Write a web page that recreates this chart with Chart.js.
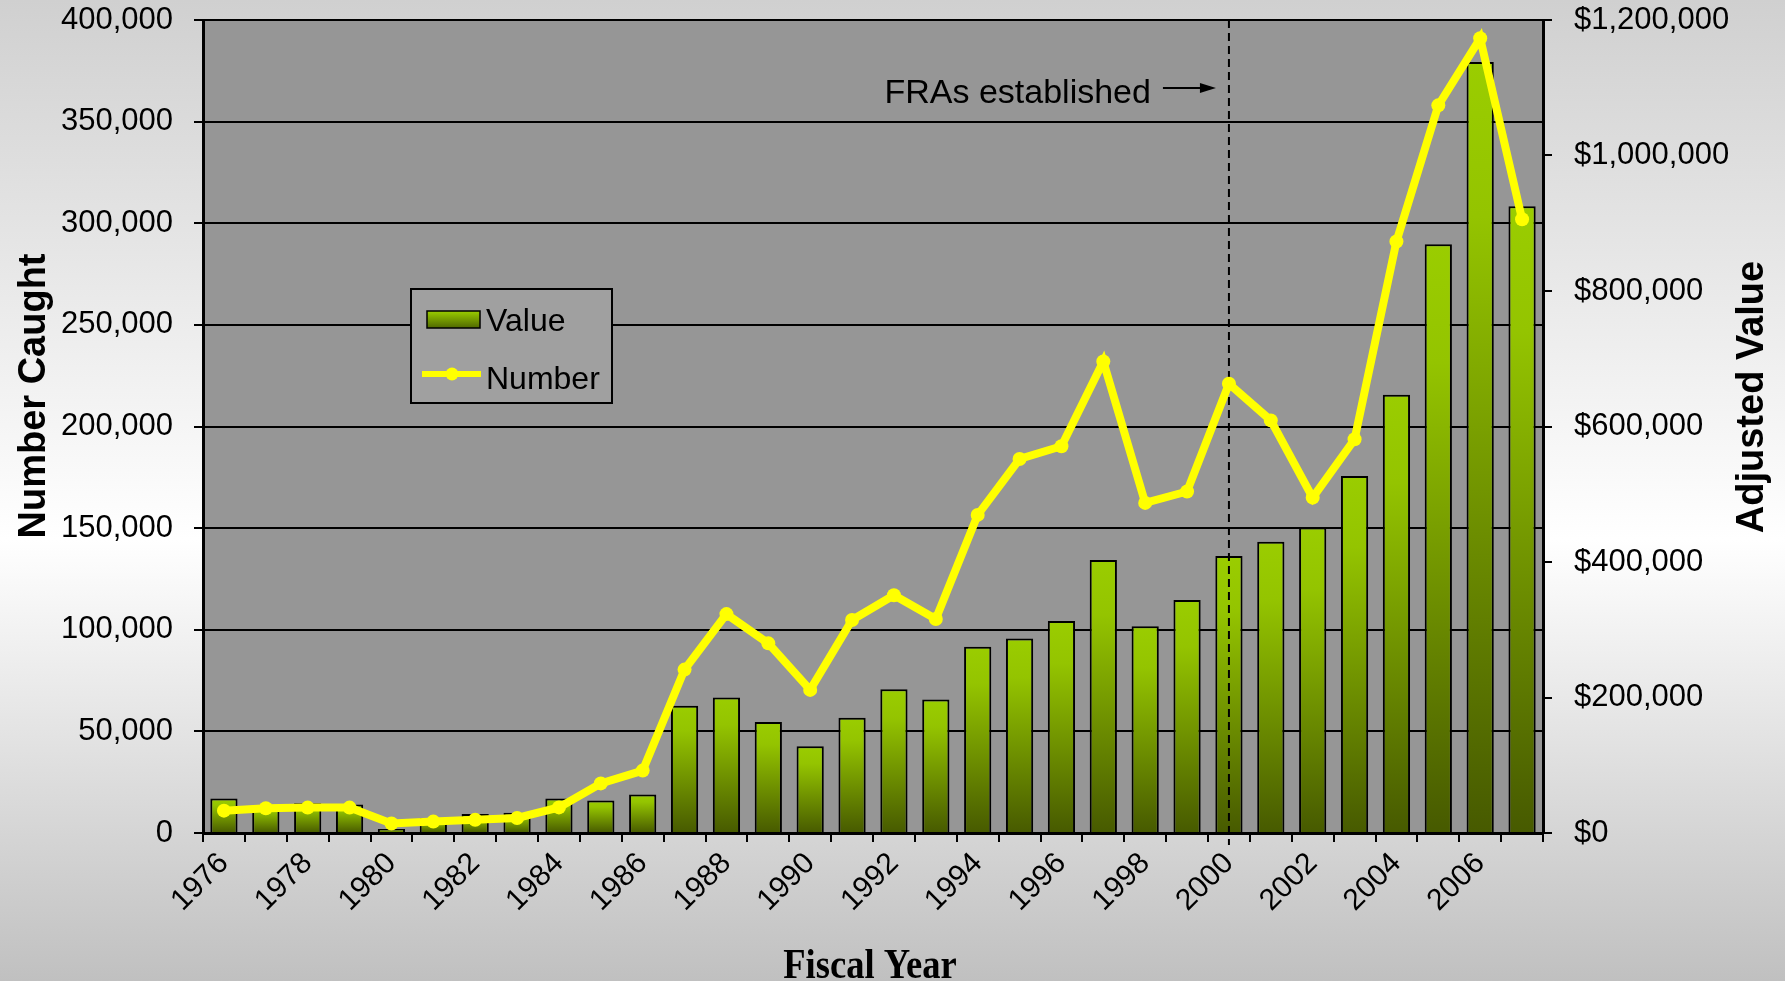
<!DOCTYPE html>
<html>
<head>
<meta charset="utf-8">
<script src="https://cdn.jsdelivr.net/npm/chart.js@4.4.1/dist/chart.umd.min.js"></script>
<style>
  html, body { margin: 0; padding: 0; overflow: hidden; }
  body {
    width: 1785px; height: 981px;
    background: linear-gradient(to bottom, #d0d0d0 0%, #ffffff 55%, #c0c0c0 100%);
  }
  #wrap { position: relative; width: 1785px; height: 981px; }
</style>
</head>
<body>
<div id="wrap"><canvas id="chart"></canvas></div>
<script>
// fiscal years on the x axis
const years = ['1976', '1977', '1978', '1979', '1980', '1981', '1982', '1983',
  '1984', '1985', '1986', '1987', '1988', '1989', '1990', '1991',
  '1992', '1993', '1994', '1995', '1996', '1997', '1998', '1999',
  '2000', '2001', '2002', '2003', '2004', '2005', '2006', '2007'];

// number caught (line, left axis)
const numberCaught = [11000, 12200, 12500, 12500, 4700, 5600, 6500, 7400,
  12600, 24400, 30700, 80400, 107700, 93300, 70400, 104800,
  117000, 105300, 156500, 184000, 190300, 232000, 162400, 168000,
  221000, 203000, 165000, 193700, 291000, 358000, 391000, 302000];

// adjusted value in dollars (bars, right axis)
const adjustedValue = [51000, 40000, 44000, 42000, 6000, 22000, 28000, 30000,
  51000, 48000, 57000, 188000, 200000, 164000, 128000, 170000,
  212000, 197000, 275000, 287000, 313000, 403000, 305000, 344000,
  409000, 430000, 451000, 527000, 647000, 869000, 1138000, 925000];

const eventYear = '2000';
const eventLabel = 'FRAs established';

const sans = "'Liberation Sans', Arial, sans-serif";
const serif = "'Liberation Serif', 'Times New Roman', serif";
Chart.defaults.font.family = sans;
Chart.defaults.color = '#000';

// green gradient for each bar, bright on top and dark at the base
function barGradient(context) {
    const chart = context.chart;
    if (!chart.chartArea || context.type !== 'data') return '#99cc00';
    const scale = chart.scales.y2;
    const yTop = scale.getPixelForValue(context.raw);
    const yBase = scale.getPixelForValue(0);
    const g = chart.ctx.createLinearGradient(0, yTop, 0, yBase);
    g.addColorStop(0, '#9acd00');
    g.addColorStop(0.2, '#94c400');
    g.addColorStop(1, '#475a00');
    return g;
}

// fixed sizes for the vertical axes so the plot sits where it should
function fitVertical(width) {
    return function (s) {
        s.width = width;
        s.paddingTop = 20;
        s.paddingBottom = 0;
    };
}

// grey plot area
const plotBg = {
    id: 'plotBg',
    beforeDraw(chart) {
        const { ctx, chartArea: a } = chart;
        ctx.save();
        ctx.fillStyle = '#969696';
        ctx.fillRect(a.left, a.top, a.right - a.left, a.bottom - a.top);
        ctx.restore();
    }
};

// dashed marker, legend and axis titles
const extras = {
    id: 'extras',
    afterDatasetDraw(chart, args) {
        if (args.index !== 1) return;
        const { ctx, chartArea: a } = chart;
        const x = chart.scales.x.getPixelForValue(years.indexOf(eventYear));
        ctx.save();
        ctx.strokeStyle = '#000';
        ctx.lineWidth = 2;
        ctx.setLineDash([8, 5]);
        ctx.beginPath();
        ctx.moveTo(x, a.top);
        ctx.lineTo(x, a.bottom + 12);
        ctx.stroke();
        ctx.setLineDash([]);

        // label and arrow
        ctx.font = '34px ' + sans;
        ctx.fillStyle = '#000';
        ctx.textAlign = 'right';
        ctx.textBaseline = 'alphabetic';
        ctx.fillText(eventLabel, x - 78, a.top + 83);
        const ay = a.top + 68;
        ctx.beginPath();
        ctx.moveTo(x - 66, ay);
        ctx.lineTo(x - 26, ay);
        ctx.stroke();
        ctx.beginPath();
        ctx.moveTo(x - 13, ay);
        ctx.lineTo(x - 29, ay - 5);
        ctx.lineTo(x - 29, ay + 5);
        ctx.closePath();
        ctx.fill();
        ctx.restore();
    },
    afterDraw(chart) {
        const { ctx, chartArea: a } = chart;
        const ds = chart.data.datasets;
        ctx.save();

        // legend box
        const lx = a.left + 208, ly = a.top + 269, lw = 201, lh = 114;
        ctx.fillStyle = '#a0a0a0';
        ctx.fillRect(lx, ly, lw, lh);
        ctx.strokeStyle = '#000';
        ctx.lineWidth = 2;
        ctx.strokeRect(lx, ly, lw, lh);

        const sw = ctx.createLinearGradient(0, ly + 22, 0, ly + 39);
        sw.addColorStop(0, '#9acd00');
        sw.addColorStop(1, '#4f6800');
        ctx.fillStyle = sw;
        ctx.fillRect(lx + 16, ly + 22, 53, 17);
        ctx.lineWidth = 1.5;
        ctx.strokeRect(lx + 16, ly + 22, 53, 17);

        ctx.strokeStyle = '#ffff00';
        ctx.lineWidth = 6;
        ctx.beginPath();
        ctx.moveTo(lx + 11, ly + 85);
        ctx.lineTo(lx + 70, ly + 85);
        ctx.stroke();
        ctx.fillStyle = '#ffff00';
        ctx.beginPath();
        ctx.arc(lx + 41, ly + 85, 6.5, 0, Math.PI * 2);
        ctx.fill();

        ctx.fillStyle = '#000';
        ctx.font = '32px ' + sans;
        ctx.textAlign = 'left';
        ctx.textBaseline = 'alphabetic';
        ctx.fillText(ds[1].label, lx + 75, ly + 42);
        ctx.fillText(ds[0].label, lx + 75, ly + 100);

        // axis titles
        ctx.font = 'bold 38px ' + sans;
        ctx.textAlign = 'center';
        ctx.save();
        ctx.translate(45, 396);
        ctx.rotate(-Math.PI / 2);
        ctx.fillText('Number Caught', 0, 0);
        ctx.restore();

        ctx.save();
        ctx.translate(1763, 397);
        ctx.rotate(-Math.PI / 2);
        ctx.fillText('Adjusted Value', 0, 0);
        ctx.restore();

        ctx.save();
        ctx.translate((a.left + a.right) / 2 - 3, 978);
        ctx.scale(0.87, 1);
        ctx.font = 'bold 42px ' + serif;
        ctx.fillText('Fiscal Year', 0, 0);
        ctx.restore();

        ctx.restore();
    }
};

const ctx = document.getElementById('chart').getContext('2d');
new Chart(ctx, {
    type: 'bar',
    data: {
        labels: years,
        datasets: [{
            type: 'line',
            label: 'Number',
            data: numberCaught,
            yAxisID: 'y',
            borderColor: '#ffff00',
            backgroundColor: '#ffff00',
            borderWidth: 8,
            pointRadius: 7,
            pointBackgroundColor: '#ffff00',
            pointBorderWidth: 0,
            tension: 0,
            order: 0
        }, {
            type: 'bar',
            label: 'Value',
            data: adjustedValue,
            yAxisID: 'y2',
            backgroundColor: barGradient,
            borderColor: '#000',
            borderWidth: 2,
            barPercentage: 0.65,
            categoryPercentage: 1,
            order: 1
        }]
    },
    options: {
        responsive: true,
        maintainAspectRatio: false,
        animation: false,
        layout: { padding: { top: 0, left: 0, right: 0, bottom: 0 } },
        plugins: {
            legend: { display: false },
            tooltip: { enabled: false }
        },
        scales: {
            x: {
                offset: true,
                grid: { offset: true, drawOnChartArea: false, color: '#000', lineWidth: 2, tickLength: 9 },
                border: { color: '#000', width: 3 },
                ticks: {
                    autoSkip: false,
                    maxRotation: 45,
                    minRotation: 45,
                    padding: 4,
                    font: { size: 30 },
                    callback: (v, i) => (i % 2 === 0 ? years[i] : '')
                },
                afterFit(s) {
                    s.height = 148;
                    s.paddingLeft = 0;
                    s.paddingRight = 0;
                }
            },
            y: {
                position: 'left',
                min: 0,
                max: 400000,
                ticks: {
                    stepSize: 50000,
                    padding: 21,
                    font: { size: 31 },
                    callback: v => v.toLocaleString('en-US')
                },
                grid: { color: '#000', lineWidth: 2, tickLength: 9 },
                border: { color: '#000', width: 3 },
                afterFit: fitVertical(203)
            },
            y2: {
                position: 'right',
                min: 0,
                max: 1200000,
                ticks: {
                    stepSize: 200000,
                    padding: 22,
                    font: { size: 31 },
                    callback: v => '$' + v.toLocaleString('en-US')
                },
                grid: { drawOnChartArea: false, color: '#000', lineWidth: 2, tickLength: 9 },
                border: { color: '#000', width: 3 },
                afterFit: fitVertical(242)
            }
        }
    },
    plugins: [plotBg, extras]
});
</script>
</body>
</html>
